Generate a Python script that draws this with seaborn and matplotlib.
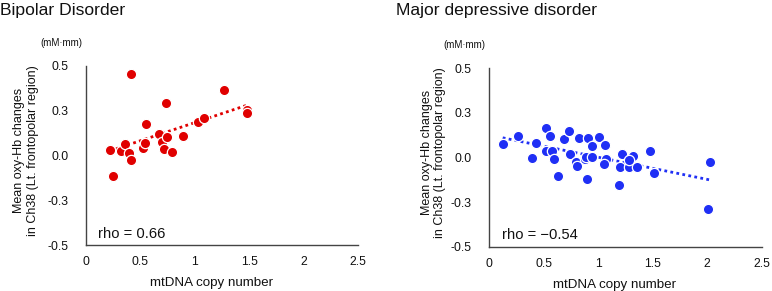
import numpy as np
import pandas as pd
import seaborn as sns
import matplotlib
matplotlib.use("Agg")
import matplotlib.pyplot as plt

# values
bd_mtdna = [0.221, 0.245, 0.322, 0.362, 0.396, 0.411, 0.411, 0.525, 0.546, 0.552, 0.669,
            0.700, 0.721, 0.749, 0.739, 0.795, 0.887, 1.025, 1.086, 1.264, 1.484, 1.484]
bd_oxyhb = [0.028, -0.116, 0.024, 0.063, 0.013, -0.024, 0.453, 0.043, 0.071, 0.174, 0.118,
            0.075, 0.035, 0.105, 0.295, 0.021, 0.110, 0.189, 0.211, 0.364, 0.256, 0.237]

mdd_mtdna = [0.123, 0.260, 0.395, 0.431, 0.520, 0.560, 0.520, 0.575, 0.596, 0.630, 0.683,
             0.734, 0.743, 0.796, 0.807, 0.826, 0.878, 0.890, 0.908, 0.942, 0.942, 0.896,
             1.009, 1.061, 1.068, 1.052, 1.220, 1.200, 1.280, 1.316, 1.353, 1.280, 1.190,
             1.474, 1.508, 2.025, 2.010]
mdd_oxyhb = [0.075, 0.120, -0.002, 0.082, 0.166, 0.123, 0.039, 0.035, -0.011, -0.103, 0.103,
             0.146, 0.019, -0.025, -0.047, 0.110, -0.006, 0.004, 0.110, 0.062, 0.004, -0.122,
             0.114, 0.071, -0.011, -0.039, 0.019, -0.056, -0.056, 0.007, -0.056, -0.015, -0.155,
             0.037, -0.086, -0.028, -0.288]

titles = ["Bipolar Disorder", "Major depressive disorder"]
rho_labels = ["rho = 0.66", "rho = \u22120.54"]
xticks = [0, 0.5, 1, 1.5, 2, 2.5]
xtick_labels = ["0", "0.5", "1", "1.5", "2", "2.5"]
yticks = [-0.5, -0.25, 0, 0.25, 0.5]
ytick_labels = ["-0.5", "-0.3", "0.0", "0.3", "0.5"]

sns.set_style("white")
plt.rcParams['font.family'] = ['Liberation Sans', 'DejaVu Sans']

fig = plt.figure(figsize=(7.72, 2.91), dpi=100)
ax_bd = fig.add_axes([86 / 772, 46 / 291, 272 / 772, 179 / 291])
ax_mdd = fig.add_axes([489.3 / 772, 44.3 / 291, 272.4 / 772, 178.4 / 291])

panels = [
    (ax_bd, bd_mtdna, bd_oxyhb, "#e00000", -0.22),
    (ax_mdd, mdd_mtdna, mdd_oxyhb, "#1f2ff5", -0.205),
]

for i, (ax, xs, ys, col, ylab_x) in enumerate(panels):
    df = pd.DataFrame({"mtdna": xs, "oxyhb": ys})
    sns.regplot(data=df, x="mtdna", y="oxyhb", ax=ax, ci=None, scatter=False,
                line_kws=dict(color=col, linestyle=(0, (1, 1.2)), linewidth=2.0))
    sns.scatterplot(data=df, x="mtdna", y="oxyhb", ax=ax, color=col, s=55,
                    edgecolor="white", linewidth=0.9, zorder=3)

    ax.set_xlim(0, 2.5)
    ax.set_ylim(-0.5, 0.5)
    ax.set_xticks(xticks)
    ax.set_xticklabels(xtick_labels)
    ax.set_yticks(yticks)
    ax.set_yticklabels(ytick_labels)
    ax.tick_params(axis="both", length=0, labelsize=8.8, colors="#111111")
    ax.tick_params(axis="y", pad=12.5)
    ax.tick_params(axis="x", pad=8)
    sns.despine(ax=ax)
    for sp in ["left", "bottom"]:
        ax.spines[sp].set_color("#444444")
        ax.spines[sp].set_linewidth(1.0)

    ax.set_xlabel("mtDNA copy number", fontsize=9.6, color="#111111")
    ax.xaxis.set_label_coords(0.46, -0.18)
    ax.set_ylabel("")
    ax.text(ylab_x, 0.53, "Mean oxy-Hb changes\nin Ch38 (Lt. frontopolar region)",
            transform=ax.transAxes, rotation=90, ha="center", va="center",
            multialignment="center", fontsize=9.0, linespacing=1.2, color="#111111")
    ax.text(-0.092, 1.128, "(mM\u00b7mm)", transform=ax.transAxes, ha="center",
            va="center", fontsize=7.0, color="#111111")
    ax.text(0.045, 0.025, rho_labels[i], transform=ax.transAxes, ha="left",
            va="bottom", fontsize=10.6, color="#111111")

fig.text(0.0, 0.99, titles[0], ha="left", va="top", fontsize=12.6, color="#111111")
fig.text(396 / 772, 0.99, titles[1], ha="left", va="top", fontsize=12.6, color="#111111")

fig.savefig("out.png", dpi=100)
